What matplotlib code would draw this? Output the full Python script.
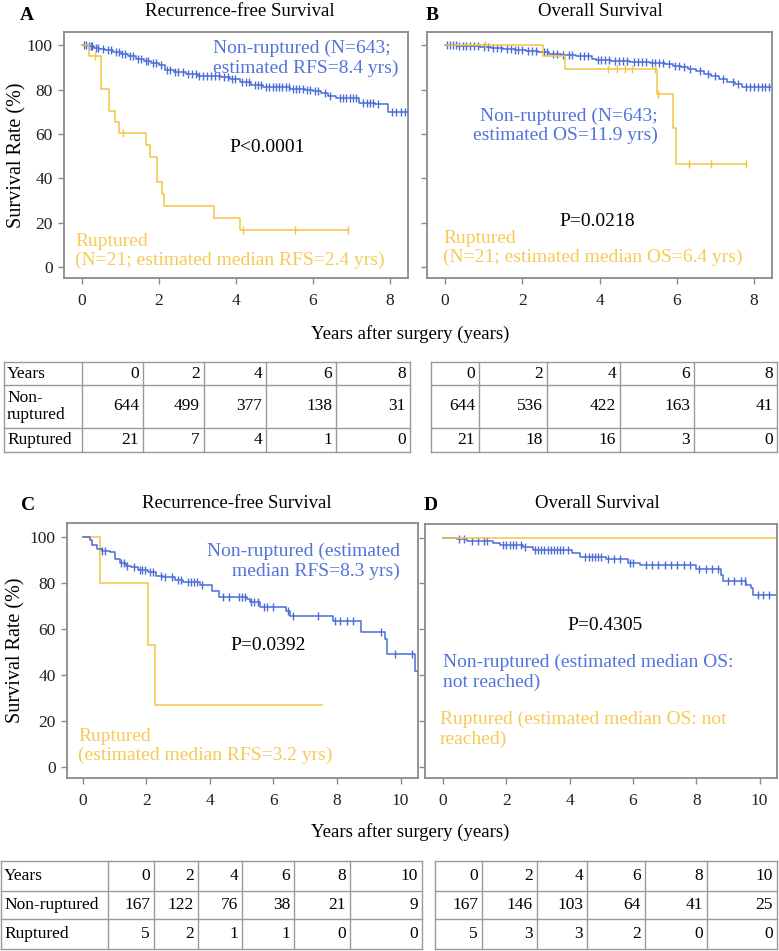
import numpy as np
import matplotlib
matplotlib.use("Agg")
import matplotlib.pyplot as plt

plt.rcParams['font.family'] = ['Liberation Serif', 'DejaVu Serif']

BLUE = '#4a6cd8'
YEL = '#f2c444'
BLUE_T = '#5273dc'
YEL_T = '#f6ca55'
GREY = '#8a8a8a'

# ---- panel A : recurrence-free survival (top) ----
tA_nr = [0, 0.15, 0.3, 0.45, 0.6, 0.8, 1.0, 1.2, 1.4, 1.6, 1.8, 2.0, 2.15, 2.4, 2.7, 3.0, 3.3, 3.6,
         3.85, 4.1, 4.4, 4.7, 5.0, 5.4, 5.8, 6.0, 6.2, 6.4, 6.6, 6.9, 7.2, 7.6, 7.95, 8.47]
sA_nr = [100, 99.5, 99, 98.5, 97.8, 97, 96, 95, 94, 93, 92, 91, 89, 88, 87, 86, 86, 85.5,
         85, 83.5, 82, 81, 81, 80.5, 80, 79.5, 78.5, 77, 76, 76, 74, 73.5, 70, 70]
cA_nr = [0.05, 0.1, 0.18, 0.22, 0.27, 0.35, 0.42, 0.55, 0.68, 0.75, 0.88, 0.97, 1.05, 1.12, 1.25, 1.33,
         1.45, 1.52, 1.65, 1.72, 1.85, 1.93, 2.05, 2.2, 2.28, 2.42, 2.5, 2.62, 2.75, 2.85, 2.95, 3.05,
         3.15, 3.25, 3.35, 3.45, 3.55, 3.68, 3.78, 3.9, 3.97, 4.15, 4.25, 4.35, 4.5, 4.58, 4.65, 4.78,
         4.85, 4.95, 5.05, 5.12, 5.2, 5.3, 5.38, 5.48, 5.55, 5.65, 5.75, 5.85, 5.92, 6.05, 6.12, 6.3,
         6.45, 6.7, 6.78, 6.85, 6.95, 7.05, 7.12, 7.3, 7.4, 7.48, 7.55, 7.7, 8.05, 8.15, 8.3, 8.4]
tA_r = [0, 0.17, 0.5, 0.7, 0.85, 0.95, 1.67, 1.77, 1.95, 2.07, 2.12, 3.42, 4.1, 6.92]
sA_r = [100, 95.2, 80.5, 70.5, 65.5, 60.5, 55, 49.5, 38.5, 33, 27.5, 22, 16.5, 16.5]
cA_r = [0.33, 1.06, 4.19, 5.53, 6.92]

# ---- panel B : overall survival (top) ----
tB_nr = [0, 0.3, 0.6, 0.9, 1.2, 1.5, 1.8, 2.1, 2.4, 2.7, 3.0, 3.4, 3.8, 3.9, 4.3, 4.8, 5.3, 5.7,
         5.9, 6.1, 6.3, 6.5, 6.7, 6.9, 7.1, 7.3, 7.5, 7.7, 8.47]
sB_nr = [100, 99.8, 99.5, 99.2, 98.8, 98.4, 98, 97.5, 97, 96.2, 95.8, 95.2, 94, 93.2, 92.8, 92.3, 91.8, 91.5,
         90.8, 90.0, 89.2, 88.3, 87.2, 86.0, 84.8, 83.6, 82.4, 81, 81]
cB_nr = [0.05, 0.12, 0.2, 0.28, 0.35, 0.45, 0.55, 0.65, 0.75, 0.85, 1.0, 1.1, 1.25, 1.35, 1.45, 1.6,
         1.7, 1.8, 1.9, 2.0, 2.15, 2.25, 2.35, 2.55, 2.65, 2.8, 2.9, 3.05, 3.2, 3.3, 3.5, 3.6, 3.7,
         3.95, 4.05, 4.15, 4.25, 4.4, 4.5, 4.6, 4.7, 4.9, 5.0, 5.1, 5.2, 5.35, 5.45, 5.55, 5.65, 5.8,
         5.95, 6.05, 6.2, 6.35, 6.6, 6.8, 7.0, 7.2, 7.45, 7.6, 7.8, 7.9, 8.0, 8.1, 8.2, 8.3, 8.4]
tB_r = [0, 2.54, 3.1, 5.5, 5.9, 5.98, 7.79]
sB_r = [100, 95.2, 89.5, 78, 62.5, 46.6, 46.6]
cB_r = [1.03, 4.22, 4.45, 4.65, 4.85, 5.43, 5.52, 6.33, 6.89, 7.79]

# ---- panel C : recurrence-free survival (bottom) ----
tC_nr = [0, 0.22, 0.3, 0.43, 0.6, 0.85, 1.0, 1.17, 1.35, 1.53, 1.75, 2.06, 2.3, 2.53, 2.9, 3.16,
         3.69, 4.05, 4.3, 5.16, 5.26, 5.57, 6.41, 6.52, 7.88, 8.77, 9.51, 9.58, 10.45, 10.55]
sC_nr = [100, 98.6, 96.5, 94.9, 94.0, 93.2, 90.3, 88.8, 87.5, 86.7, 85.5, 84.5, 83.0, 82.3, 81.2, 80.4,
         79.1, 76.5, 73.6, 72.9, 71.4, 69.6, 67.8, 65.7, 63.5, 58.4, 55.5, 49.0, 41.7, 41.7]
cC_nr = [0.6, 0.7, 1.2, 1.3, 1.4, 1.6, 1.8, 1.85, 1.95, 2.1, 2.2, 2.45, 2.6, 2.8, 3.0, 3.1, 3.3, 3.4,
         3.5, 3.6, 3.75, 4.4, 4.6, 4.9, 5.0, 5.1, 5.3, 5.4, 5.5, 5.7, 5.8, 6.0, 6.45, 6.6, 7.4, 7.95,
         8.1, 8.3, 8.5, 9.4, 9.83, 10.35]
tC_r = [0, 0.54, 2.06, 2.27, 7.52]
sC_r = [100, 80.1, 53, 26.8, 26.8]

# ---- panel D : overall survival (bottom) ----
tD_nr = [0, 0.43, 0.75, 1.59, 1.8, 2.53, 2.85, 4.06, 4.32, 5.16, 5.84, 6.21, 8.0, 8.79, 8.84,
         9.58, 9.74, 9.79, 10.55]
sD_nr = [100, 99.4, 98.6, 97.5, 96.8, 95.8, 94.6, 93.2, 91.7, 90.7, 88.8, 88.1, 86.2, 83.8, 80.9,
         79.4, 78, 75.1, 75.1]
cD_nr = [0.5, 0.65, 0.9, 1.1, 1.3, 1.4, 1.9, 2.0, 2.1, 2.2, 2.3, 2.45, 2.6, 2.9, 3.0, 3.1, 3.2, 3.3,
         3.4, 3.5, 3.6, 3.7, 3.8, 3.95, 4.5, 4.6, 4.7, 4.8, 4.9, 5.0, 5.2, 5.4, 5.6, 5.9, 6.0, 6.4,
         6.6, 6.8, 7.0, 7.2, 7.4, 7.6, 7.8, 8.1, 8.3, 8.5, 8.7, 9.0, 9.2, 9.4, 9.55, 9.95, 10.1, 10.3]
tD_r = [0, 10.55]
sD_r = [100, 100]

# ---- numbers at risk ----
years_top = ['0', '2', '4', '6', '8']
riskA_nr = ['644', '499', '377', '138', '31']
riskA_r = ['21', '7', '4', '1', '0']
riskB_nr = ['644', '536', '422', '163', '41']
riskB_r = ['21', '18', '16', '3', '0']
years_bot = ['0', '2', '4', '6', '8', '10']
riskC_nr = ['167', '122', '76', '38', '21', '9']
riskC_r = ['5', '2', '1', '1', '0', '0']
riskD_nr = ['167', '146', '103', '64', '41', '25']
riskD_r = ['5', '3', '3', '2', '0', '0']

W, H = 779, 951
fig = plt.figure(figsize=(W / 100, H / 100), dpi=100)


def box(l, t, r, b):
    return [l / W, 1 - b / H, (r - l) / W, (b - t) / H]


def km(ax, t, s, cens, col):
    t = np.array(t)
    s = np.array(s)
    ax.step(t, s, where='post', color=col, lw=1.1)
    if len(cens):
        c = np.array(cens)
        sc = s[np.searchsorted(t, c, side='right') - 1]
        ax.plot(c, sc, '|', color=col, ms=6, mew=1.0)


def style(ax, xlim, xt, ylab):
    ax.set_xlim(*xlim)
    ax.set_ylim(-5, 106)
    ax.set_xticks(xt)
    ax.set_yticks([0, 20, 40, 60, 80, 100])
    if not ylab:
        ax.set_yticklabels([])
    for sp in ax.spines.values():
        sp.set_color(GREY)
        sp.set_linewidth(1.3)
    ax.tick_params(direction='out', length=4, width=1, color=GREY, labelsize=12.5,
                   labelcolor='#222222')
    ax.tick_params(axis='x', pad=7)
    ax.tick_params(axis='y', pad=4)


axA = fig.add_axes(box(64, 32, 408, 278))
km(axA, tA_nr, sA_nr, cA_nr, BLUE)
km(axA, tA_r, sA_r, cA_r, YEL)
style(axA, (-0.47, 8.47), [0, 2, 4, 6, 8], True)

axB = fig.add_axes(box(427, 32, 772, 278))
km(axB, tB_nr, sB_nr, cB_nr, BLUE)
km(axB, tB_r, sB_r, cB_r, YEL)
style(axB, (-0.47, 8.47), [0, 2, 4, 6, 8], False)

axC = fig.add_axes(box(67, 523, 418, 778))
km(axC, tC_r, sC_r, [], YEL)
km(axC, tC_nr, sC_nr, cC_nr, BLUE)
style(axC, (-0.5, 10.55), [0, 2, 4, 6, 8, 10], True)

axD = fig.add_axes(box(425, 524, 777, 778))
km(axD, tD_nr, sD_nr, cD_nr, BLUE)
km(axD, tD_r, sD_r, [], YEL)
style(axD, (-0.57, 10.55), [0, 2, 4, 6, 8, 10], False)

# overlay in pixel coordinates for texts and tables
ov = fig.add_axes([0, 0, 1, 1])
ov.set_xlim(0, W)
ov.set_ylim(H, 0)
ov.axis('off')
ov.patch.set_alpha(0)

for x, y, s in [(27, 16, 'A'), (432, 16, 'B'), (28, 506, 'C'), (431, 506, 'D')]:
    ov.text(x, y, s, fontsize=14, fontweight='bold', ha='center', va='center')
for x, y, s in [(240, 12, 'Recurrence-free Survival'), (600, 12, 'Overall Survival'),
                (237, 503, 'Recurrence-free Survival'), (597, 504, 'Overall Survival')]:
    ov.text(x, y, s, fontsize=13.5, ha='center', va='center')
ov.text(17, 155, 'Survival Rate (%)', fontsize=14.5, rotation=90, ha='center', va='center')
ov.text(16, 650, 'Survival Rate (%)', fontsize=14.5, rotation=90, ha='center', va='center')
ov.text(410, 334, 'Years after surgery (years)', fontsize=13.5, ha='center', va='center')
ov.text(410, 832, 'Years after surgery (years)', fontsize=13.5, ha='center', va='center')

fs = 14
ls = 1.2
ov.text(213, 58, 'Non-ruptured (N=643;\nestimated RFS=8.4 yrs)', color=BLUE_T, fontsize=fs,
        ha='left', va='center', linespacing=ls)
ov.text(267, 148, 'P<0.0001', fontsize=fs, ha='center', va='center')
ov.text(75, 251, 'Ruptured\n(N=21; estimated median RFS=2.4 yrs)', color=YEL_T, fontsize=fs,
        ha='left', va='center', linespacing=ls)
ov.text(565, 126, 'Non-ruptured (N=643;\nestimated OS=11.9 yrs)', color=BLUE_T, fontsize=fs,
        ha='center', va='center', linespacing=1.1, multialignment='right')
ov.text(597, 222, 'P=0.0218', fontsize=fs, ha='center', va='center')
ov.text(443, 248, 'Ruptured\n(N=21; estimated median OS=6.4 yrs)', color=YEL_T, fontsize=fs,
        ha='left', va='center', linespacing=1.1)
ov.text(400, 561, 'Non-ruptured (estimated\nmedian RFS=8.3 yrs)', color=BLUE_T, fontsize=fs,
        ha='right', va='center', linespacing=ls, multialignment='right')
ov.text(268, 646, 'P=0.0392', fontsize=fs, ha='center', va='center')
ov.text(78, 746, 'Ruptured\n(estimated median RFS=3.2 yrs)', color=YEL_T, fontsize=fs,
        ha='left', va='center', linespacing=ls)
ov.text(605, 625, 'P=0.4305', fontsize=fs, ha='center', va='center')
ov.text(443, 672, 'Non-ruptured (estimated median OS:\nnot reached)', color=BLUE_T, fontsize=fs,
        ha='left', va='center', linespacing=ls)
ov.text(440, 729, 'Ruptured (estimated median OS: not\nreached)', color=YEL_T, fontsize=fs,
        ha='left', va='center', linespacing=ls)


def table(xs, ys, rows, lab):
    for x in xs:
        ov.plot([x, x], [ys[0], ys[-1]], color='#9a9a9a', lw=1)
    for y in ys:
        ov.plot([xs[0], xs[-1]], [y, y], color='#9a9a9a', lw=1)
    for i, row in enumerate(rows):
        yc = (ys[i] + ys[i + 1]) / 2
        for j, cell in enumerate(row):
            if lab and j == 0:
                ov.text(xs[0] + 3, yc, cell, fontsize=12.5, ha='left', va='center', linespacing=1.1)
            else:
                ov.text(xs[j + 1] - 4, yc, cell, fontsize=12.5, ha='right', va='center')


table([4, 82, 143, 204, 266, 336, 410], [362, 385, 428, 452],
      [['Years'] + years_top, ['Non-\nruptured'] + riskA_nr, ['Ruptured'] + riskA_r], True)
table([431, 479, 547, 620, 694, 777], [362, 385, 428, 452],
      [years_top, riskB_nr, riskB_r], False)
table([1, 108, 154, 198, 242, 294, 350, 422], [861, 891, 919, 949],
      [['Years'] + years_bot, ['Non-ruptured'] + riskC_nr, ['Ruptured'] + riskC_r], True)
table([435, 482, 537, 587, 645, 707, 777], [861, 891, 919, 949],
      [years_bot, riskD_nr, riskD_r], False)

fig.savefig('out.png', dpi=100)
